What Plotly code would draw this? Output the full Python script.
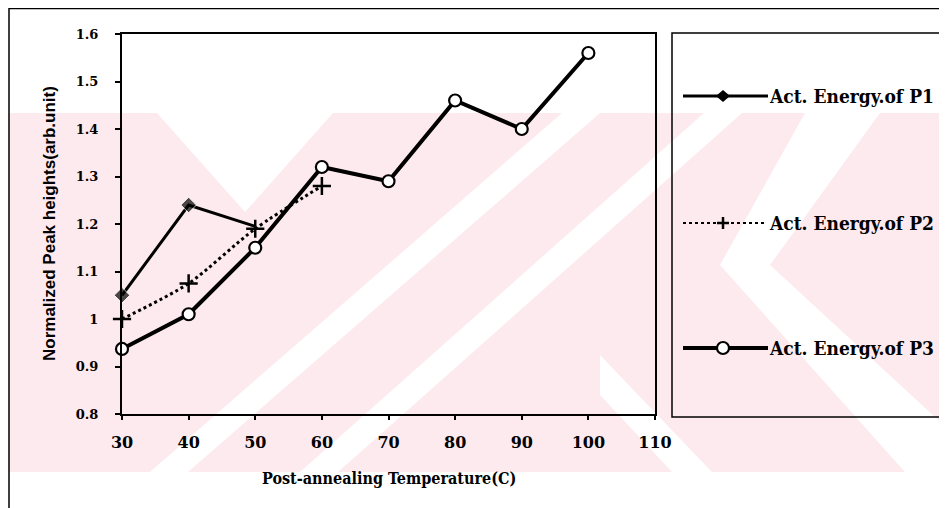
import plotly.graph_objects as go

# ---------------- data ----------------
temps_p1 = [30, 40, 50]
energy_p1 = [1.05, 1.24, 1.195]

temps_p2 = [30, 40, 50, 60]
energy_p2 = [1.00, 1.075, 1.19, 1.28]

temps_p3 = [30, 40, 50, 60, 70, 80, 90, 100]
energy_p3 = [0.937, 1.01, 1.15, 1.32, 1.29, 1.46, 1.40, 1.56]

series_names = ["Act. Energy.of P1", "Act. Energy.of P2", "Act. Energy.of P3"]

x_ticks = [30, 40, 50, 60, 70, 80, 90, 100, 110]
y_ticks = [0.8, 0.9, 1.0, 1.1, 1.2, 1.3, 1.4, 1.5, 1.6]
y_tick_labels = ["0.8", "0.9", "1", "1.1", "1.2", "1.3", "1.4", "1.5", "1.6"]

x_title = "Post-annealing Temperature(C)"
y_title = "Normalized Peak heights(arb.unit)"

# ---------------- layout geometry ----------------
# The page body has an 8px margin, so the figure starts 8px in from the window edge.
OFF = 8
W, H = 947 - OFF, 508 - OFF
SL, SR, ST, SB = 122, 655, 34, 414          # plot-area edges in window pixels
L, R, T, B = SL - OFF, SR - OFF, ST - OFF, SB - OFF


def px2x(px):
    return (px - SL) / (SR - SL)


def px2y(py):
    return (SB - py) / (SB - ST)


SERIF = "DejaVu Serif"
SERIF_C = "DejaVu Serif Condensed"
SANS = "Liberation Sans"
PINK = "#fdeaee"

fig = go.Figure()

fig.add_trace(go.Scatter(
    x=temps_p1, y=energy_p1, mode="lines+markers", name=series_names[0],
    line=dict(color="black", width=3),
    marker=dict(symbol="diamond", size=[12, 12, 0], color="black"),
    cliponaxis=False, showlegend=False))
fig.add_trace(go.Scatter(
    x=temps_p2, y=energy_p2, mode="lines+markers", name=series_names[1],
    line=dict(color="black", width=3, dash="dot", shape="spline", smoothing=0.8),
    marker=dict(symbol="cross-thin", size=13, color="black",
                line=dict(color="black", width=2.5)),
    cliponaxis=False, showlegend=False))
fig.add_trace(go.Scatter(
    x=temps_p3, y=energy_p3, mode="lines+markers", name=series_names[2],
    line=dict(color="black", width=4),
    marker=dict(symbol="circle", size=12, color="white",
                line=dict(color="black", width=2.2)),
    cliponaxis=False, showlegend=False))

shapes = []


def poly(pts, color):
    d = "M " + " L ".join(f"{px2x(a):.4f},{px2y(b):.4f}" for a, b in pts) + " Z"
    return dict(type="path", path=d, xref="paper", yref="paper",
                fillcolor=color, line=dict(width=0), layer="below")


# ---- faint pink watermark (background decoration) ----
shapes.append(poly([(0, 113), (960, 113), (960, 472), (0, 472)], PINK))
shapes.append(poly([(157, 113), (333, 113), (245, 212)], "white"))
shapes.append(poly([(150, 472), (188, 472), (600, 113), (562, 113)], "white"))
shapes.append(poly([(300, 472), (338, 472), (742, 113), (704, 113)], "white"))
shapes.append(poly([(720, 265), (770, 265), (880, 113), (805, 113)], "white"))
shapes.append(poly([(720, 265), (770, 265), (960, 440), (960, 472), (905, 472)], "white"))
shapes.append(poly([(600, 355), (600, 395), (672, 472), (712, 472)], "white"))

# ---- outer frame ----
shapes.append(dict(type="rect", xref="paper", yref="paper",
                   x0=px2x(9), x1=px2x(970), y0=px2y(530), y1=px2y(8.5),
                   line=dict(color="black", width=1.5)))

# ---- legend box ----
LX0, LX1, LY0, LY1 = 672, 941, 33, 417
shapes.append(dict(type="rect", xref="paper", yref="paper",
                   x0=px2x(LX0), x1=px2x(LX1), y0=px2y(LY1), y1=px2y(LY0),
                   line=dict(color="black", width=1.5)))

legend_rows = [96, 223, 348]
s0, s1, sm = 683, 768, 723

yy = legend_rows[0]
shapes.append(dict(type="line", xref="paper", yref="paper",
                   x0=px2x(s0), x1=px2x(s1), y0=px2y(yy), y1=px2y(yy),
                   line=dict(color="black", width=3)))
shapes.append(poly([(sm - 7, yy), (sm, yy - 6), (sm + 7, yy), (sm, yy + 6)], "black"))

yy = legend_rows[1]
shapes.append(dict(type="line", xref="paper", yref="paper",
                   x0=px2x(s0), x1=px2x(s1 - 4), y0=px2y(yy), y1=px2y(yy),
                   line=dict(color="black", width=2, dash="dot")))
shapes.append(dict(type="line", xref="paper", yref="paper",
                   x0=px2x(sm - 6), x1=px2x(sm + 6), y0=px2y(yy), y1=px2y(yy),
                   line=dict(color="black", width=2.5)))
shapes.append(dict(type="line", xref="paper", yref="paper",
                   x0=px2x(sm), x1=px2x(sm), y0=px2y(yy - 6), y1=px2y(yy + 6),
                   line=dict(color="black", width=2.5)))

yy = legend_rows[2]
shapes.append(dict(type="line", xref="paper", yref="paper",
                   x0=px2x(s0), x1=px2x(s1), y0=px2y(yy), y1=px2y(yy),
                   line=dict(color="black", width=4)))
shapes.append(dict(type="circle", xref="paper", yref="paper",
                   x0=px2x(sm - 6), x1=px2x(sm + 6), y0=px2y(yy + 6), y1=px2y(yy - 6),
                   fillcolor="white", line=dict(color="black", width=2.2)))

annotations = []
for name, yy in zip(series_names, legend_rows):
    annotations.append(dict(text=name, xref="paper", yref="paper",
                            x=px2x(767), y=px2y(yy), xanchor="left", yanchor="middle",
                            showarrow=False,
                            font=dict(family=SERIF_C, size=19, color="black", weight="bold")))

annotations.append(dict(text=x_title, xref="paper", yref="paper",
                        x=0.5, y=px2y(478), xanchor="center", yanchor="middle",
                        showarrow=False,
                        font=dict(family=SERIF_C, size=16, color="black", weight="bold")))
annotations.append(dict(text=y_title, xref="paper", yref="paper",
                        x=px2x(49), y=0.5, xanchor="center", yanchor="middle",
                        textangle=-90, showarrow=False,
                        font=dict(family=SANS, size=17, color="black", weight="bold")))

fig.update_layout(
    width=W, height=H,
    margin=dict(l=L, r=W - R, t=T, b=H - B, pad=0),
    paper_bgcolor="white",
    plot_bgcolor="rgba(0,0,0,0)",
    shapes=shapes,
    annotations=annotations,
    showlegend=False,
)

fig.update_xaxes(
    range=[30, 110], tickvals=x_ticks, ticktext=[str(v) for v in x_ticks],
    showgrid=False, zeroline=False,
    showline=True, linecolor="black", linewidth=2, mirror=True,
    ticks="outside", ticklen=4, tickwidth=1.5, tickcolor="black",
    ticklabelstandoff=9,
    tickfont=dict(family=SERIF, size=16, color="black", weight="bold"),
)
fig.update_yaxes(
    range=[0.8, 1.6], tickvals=y_ticks, ticktext=y_tick_labels,
    showgrid=False, zeroline=False,
    showline=True, linecolor="black", linewidth=2, mirror=True,
    ticks="outside", ticklen=5, tickwidth=1.5, tickcolor="black",
    ticklabelstandoff=14,
    tickfont=dict(family=SERIF, size=13, color="black", weight="bold"),
)

fig.write_html("out.html")
